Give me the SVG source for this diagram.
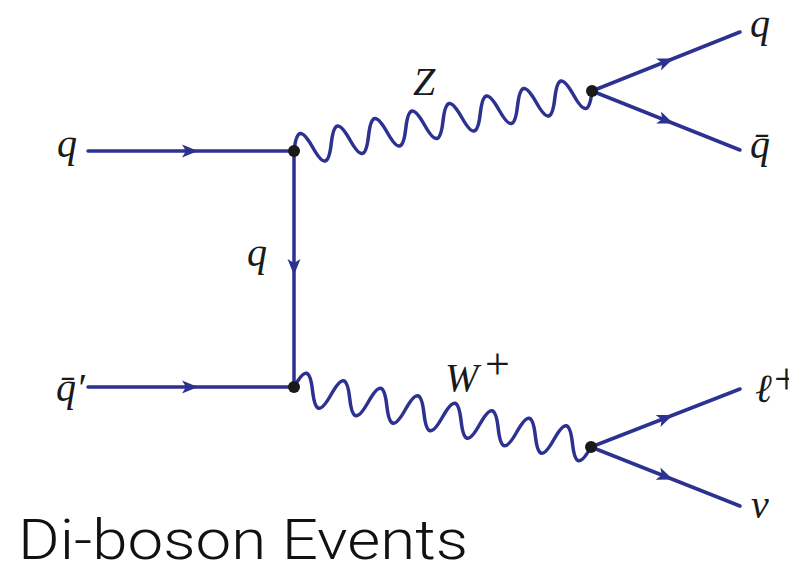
<svg xmlns="http://www.w3.org/2000/svg" xmlns:xlink="http://www.w3.org/1999/xlink" width="789" height="568" viewBox="0 0 789 568">
<style>
.f{fill:none;stroke:#2d3190;stroke-width:3.5;stroke-linecap:round;stroke-linejoin:round}
.a{fill:#2d3190;stroke:none}
.v{fill:#1a1a1a}
.m{font-family:"Liberation Serif","DejaVu Serif",serif;font-style:italic;font-size:40px;fill:#1a1a1a}
.s{font-family:"Liberation Serif","DejaVu Serif",serif;font-size:44px;fill:#1a1a1a}
.t{font-family:Roboto,"Liberation Sans",sans-serif;font-weight:300;font-size:55px;fill:#111}
</style>
<defs>
<path id="wave" d="M0,0 C6.84,-21.3 12.16,-21.3 19,0 S31.16,21.3 38,0 S50.16,-21.3 57,0 S69.16,21.3 76,0 S88.16,-21.3 95,0 S107.16,21.3 114,0 S126.16,-21.3 133,0 S145.16,21.3 152,0 S164.16,-21.3 171,0 S183.16,21.3 190,0 S202.16,-21.3 209,0 S221.16,21.3 228,0 S240.16,-21.3 247,0 S259.16,21.3 266,0 S278.16,-21.3 285,0 S297.16,21.3 304,0"/>
<path id="arr" d="M8,0 L-8,-6.5 L-4,0 L-8,6.5 Z"/>
</defs>
<g id="connectors">
<path class="f" d="M88,151 H294"/>
<path class="f" d="M88,387 H294"/>
<path class="f" d="M294,151 V387"/>
<path class="f" d="M592,91 L740,32"/>
<path class="f" d="M592,91 L740,150"/>
<path class="f" d="M591,447 L740,389"/>
<path class="f" d="M591,447 L740,506"/>
<use xlink:href="#wave" class="f" transform="translate(294,151) rotate(-11.38)"/>
<use xlink:href="#wave" class="f" transform="translate(294,387) rotate(11.42) scale(0.9967,1)"/>
<use xlink:href="#arr" class="a" transform="translate(190,151)"/>
<use xlink:href="#arr" class="a" transform="translate(190,387)"/>
<use xlink:href="#arr" class="a" transform="translate(294,267) rotate(90)"/>
<use xlink:href="#arr" class="a" transform="translate(666,61.5) rotate(-21.74)"/>
<use xlink:href="#arr" class="a" transform="translate(666,120.5) rotate(21.74)"/>
<use xlink:href="#arr" class="a" transform="translate(665.5,418) rotate(-21.6)"/>
<use xlink:href="#arr" class="a" transform="translate(665.5,476.5) rotate(21.3)"/>
</g>
<g id="v1"><circle class="v" cx="294" cy="151" r="6"/></g>
<g id="v2"><circle class="v" cx="294" cy="387" r="6"/></g>
<g id="v3"><circle class="v" cx="592" cy="91" r="6"/></g>
<g id="v4"><circle class="v" cx="591" cy="447" r="6"/></g>
<g id="labels">
<text class="m" x="57" y="157">q</text>
<text class="m" x="247" y="266">q</text>
<text class="m" x="56" y="401">q̄′</text>
<text class="m" x="413" y="95">Z</text>
<text class="m" x="445" y="391" font-size="42">W</text>
<text class="s" x="485" y="379">+</text>
<text class="m" x="750" y="37">q</text>
<text class="m" x="750" y="158">q̄</text>
<text class="m" x="755" y="402">ℓ</text>
<text class="s" x="774" y="394">+</text>
<text class="m" x="751" y="518">ν</text>
<text class="t" x="18" y="559" textLength="450" lengthAdjust="spacingAndGlyphs">Di-boson Events</text>
</g>
</svg>
